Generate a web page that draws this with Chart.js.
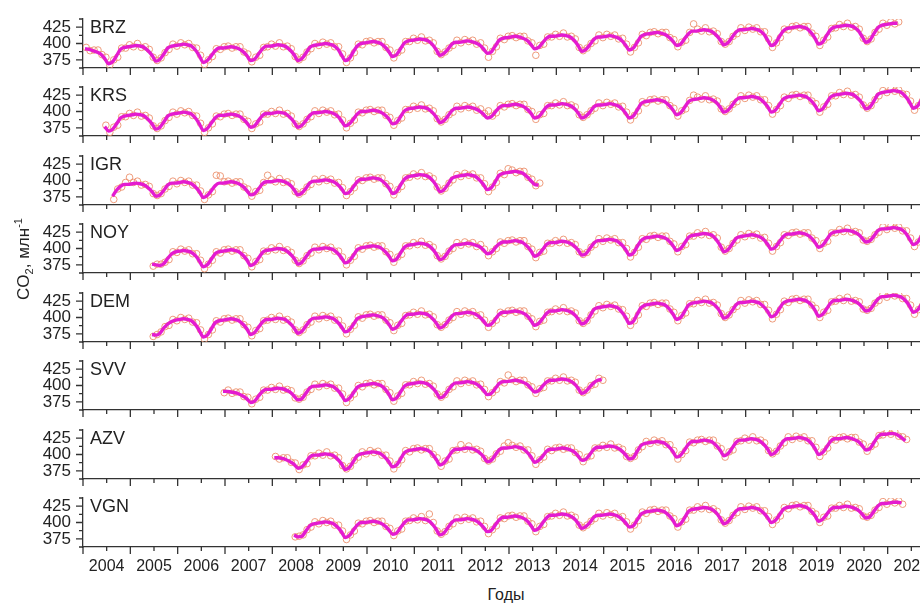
<!DOCTYPE html>
<html lang="ru">
<head>
<meta charset="UTF-8">
<title>CO2 stations</title>
<script src="https://cdn.jsdelivr.net/npm/chart.js"></script>
<style>
  html, body { margin: 0; padding: 0; overflow: hidden; background: #fff; }
  #wrap { position: relative; width: 920px; height: 604px; overflow: hidden; }
  .panel { position: absolute; left: 0; width: 940px; }
  #ytitle { position: absolute; left: -43px; top: 249px; width: 130px; height: 20px; line-height: 20px;
            text-align: center; transform: rotate(-90deg); font: 17px Arial, "Liberation Sans", sans-serif; color: #222; z-index: 5; }
  #ytitle sub, #ytitle sup { font-size: 11px; }
  #xtitle { position: absolute; left: 456px; top: 586px; width: 100px; text-align: center;
            font: 16px Arial, "Liberation Sans", sans-serif; color: #222; }
</style>
</head>
<body>
<div id="wrap">
  <div id="ytitle">CO<sub>2</sub>, млн<sup>-1</sup></div>
  <div id="xtitle">Годы</div>
</div>
<script>
// станции сверху вниз и месяц первой точки каждого ряда
const stations = ['BRZ', 'KRS', 'IGR', 'NOY', 'DEM', 'SVV', 'AZV', 'VGN'];
const firstMonths = ['2004-01', '2004-06', '2004-08', '2005-06', '2005-06', '2006-12', '2008-01', '2008-06'];

const yearLabels = ['2004', '2005', '2006', '2007', '2008', '2009', '2010', '2011', '2012',
                    '2013', '2014', '2015', '2016', '2017', '2018', '2019', '2020', '2021'];
const xTicks = [2004, 2004.5, 2005, 2005.5, 2006, 2006.5, 2007, 2007.5, 2008, 2008.5, 2009, 2009.5,
                2010, 2010.5, 2011, 2011.5, 2012, 2012.5, 2013, 2013.5, 2014, 2014.5, 2015, 2015.5,
                2016, 2016.5, 2017, 2017.5, 2018, 2018.5, 2019, 2019.5, 2020, 2020.5, 2021, 2021.5, 2022];
const yTicks = [362.5, 375, 387.5, 400, 412.5, 425, 437.5];
const yLabels = { 375: '375', 400: '400', 425: '425' };

// сглаженные среднемесячные значения (линия), млн-1
const brzLine = [
  392,391,389,387,384,377,369,372,381,391,394,395, 396,397,396,394,389,382,373,376,384,393,396,397,
  398,399,398,396,390,381,371,374,381,389,393,393, 394,395,394,392,388,382,374,376,384,392,396,396,
  397,398,397,395,390,383,374,377,385,394,397,398, 399,400,399,397,392,383,374,377,387,396,400,401,
  402,403,402,400,395,388,380,383,392,401,404,405, 406,407,406,404,399,391,382,385,391,399,402,402,
  403,404,403,401,398,392,385,387,396,405,408,409, 410,411,410,408,405,399,392,394,401,408,411,411,
  412,413,412,410,405,397,388,391,398,406,410,410, 411,412,411,409,405,398,390,393,402,411,414,415,
  416,417,416,414,410,404,397,399,407,415,419,419, 420,421,420,418,413,406,398,401,409,417,421,421,
  422,423,422,420,415,406,397,400,410,419,423,424, 425,426,425,423,417,409,399,402,412,421,425,426,
  427,428,427,425,420,411,402,405,415,424,428,429, 430,431,431];
const krsLine = [
  377,370,373,381,390,393,394,
  395,396,395,393,388,381,373,376,384,393,396,397, 398,399,398,396,390,381,371,374,382,390,394,394,
  395,396,395,393,389,383,376,378,386,394,397,397, 398,399,398,396,391,384,376,379,386,394,398,398,
  399,400,399,397,393,386,378,381,388,396,400,400, 401,402,401,399,395,389,381,383,392,401,404,405,
  406,407,406,404,399,392,383,386,393,401,405,405, 406,407,406,404,401,396,390,392,399,406,409,409,
  410,411,410,408,404,398,390,392,399,407,410,410, 411,412,411,409,405,398,390,393,399,407,410,410,
  411,412,411,409,405,398,390,393,402,412,415,416, 417,418,417,415,410,403,395,398,406,415,418,419,
  420,421,420,418,414,407,399,402,409,417,421,421, 422,423,422,420,415,408,399,402,410,419,422,423,
  424,425,424,422,417,410,401,404,413,422,425,426, 427,428,427,425,420,413,404,407,416,426,429,430,
  431,432,431,429,423,415,405,408,417,427,430,431];
const igrLine = [
  376,385,391,394,394,
  395,396,395,393,389,383,376,378,385,393,396,396, 397,398,397,395,390,383,374,377,384,392,396,396,
  397,398,397,395,391,385,378,380,387,395,398,398, 399,400,399,397,393,386,378,381,388,396,399,399,
  400,401,400,398,394,388,380,382,390,398,402,402, 403,404,403,401,396,389,380,383,393,402,406,407,
  408,409,408,406,401,393,383,386,394,403,406,407, 408,409,408,406,401,394,386,389,398,408,411,412,
  413,414,413,411,406,400,394,393];
const noyLine = [
  376,375,374,377,385,392,395,
  396,397,396,394,389,381,372,375,383,392,395,396, 397,398,397,395,390,383,374,377,385,394,397,398,
  399,400,399,397,392,385,376,379,387,395,399,399, 400,401,400,398,393,386,378,381,389,398,401,402,
  403,404,403,401,396,389,381,384,393,402,405,406, 407,408,407,405,400,392,383,386,394,402,406,406,
  407,408,407,405,403,398,392,394,401,407,410,410, 411,412,411,409,404,397,388,391,398,406,409,409,
  410,411,410,408,404,398,390,392,400,408,412,412, 413,414,413,411,406,399,390,393,403,412,416,417,
  418,419,418,416,412,405,397,400,408,417,420,421, 422,423,422,420,414,405,395,398,406,415,418,419,
  420,421,420,418,414,407,399,402,410,418,422,422, 423,424,423,421,417,410,402,405,413,422,425,426,
  427,428,427,425,422,416,410,412,419,427,430,430, 431,432,431,429,424,415,406,409,418,427,430,431];
const demLine = [
  374,373,376,384,390,394,396,
  397,398,397,395,389,380,370,373,382,392,395,396, 397,398,397,395,390,383,374,377,385,393,397,397,
  398,399,398,396,391,384,376,379,387,395,399,399, 400,401,400,398,393,386,378,381,389,398,401,402,
  403,404,403,401,397,390,382,385,393,401,405,405, 406,407,406,404,399,392,384,387,394,402,406,406,
  407,408,407,405,401,395,388,390,397,405,408,408, 409,410,409,407,403,396,388,391,398,406,410,410,
  411,412,411,409,405,398,390,393,402,412,415,416, 417,418,417,415,409,401,391,394,405,415,419,420,
  421,422,421,419,414,406,397,400,409,419,422,423, 424,425,424,422,417,409,399,402,410,419,423,423,
  424,425,424,422,417,410,401,404,413,422,425,426, 427,428,427,425,420,412,402,405,413,422,426,426,
  427,428,427,425,422,416,410,412,420,428,432,432, 433,434,433,431,426,418,408,411,419,428,432,432];
const svvLine = [
  391,
  391,390,389,387,384,380,374,376,384,391,394,394, 395,396,395,393,390,384,378,380,388,396,399,399,
  400,401,400,398,393,386,377,380,388,397,400,401, 402,403,402,400,395,387,378,381,390,399,402,403,
  404,405,404,402,397,390,381,384,392,400,404,404, 405,406,405,403,399,393,386,388,395,403,406,406,
  407,408,407,405,402,396,390,392,399,405,408,408, 409,410,409,407,403,396,388,391,398,404,408,409];
const azvLine = [
  395,395,394,392,389,385,379,381,388,396,399,399, 400,401,400,398,393,386,377,380,389,398,401,402,
  403,404,403,401,396,389,381,384,393,403,406,407, 408,409,408,406,401,393,384,387,395,404,408,408,
  409,410,409,407,403,397,389,391,399,407,410,410, 411,412,411,409,404,397,388,391,397,405,408,408,
  409,410,409,407,404,398,391,393,400,408,411,411, 412,413,412,410,406,400,393,395,405,414,417,418,
  419,420,419,417,412,405,396,399,407,416,420,420, 421,422,421,419,414,407,398,401,409,418,422,422,
  423,424,423,421,416,409,400,403,411,420,424,424, 425,426,425,423,418,410,400,403,411,420,424,424,
  425,426,425,423,420,414,407,409,418,427,431,431, 432,432,430,426,421];
const vgnLine = [
  381,378,379,387,395,398,399,
  400,401,400,398,393,386,377,380,388,396,400,400, 401,402,401,399,395,389,382,384,392,400,404,404,
  405,406,405,403,398,390,381,384,392,400,404,404, 405,406,405,403,399,393,386,388,396,404,408,408,
  409,410,409,407,403,396,388,391,399,407,411,411, 412,413,412,410,406,399,391,394,400,408,411,411,
  412,413,412,410,406,400,393,395,404,413,416,417, 418,419,418,416,411,404,395,398,407,417,420,421,
  422,423,422,420,415,407,398,401,409,417,421,421, 422,423,422,420,415,408,400,403,411,420,423,424,
  425,426,425,423,418,411,402,405,412,420,423,423, 424,425,424,422,419,413,407,409,417,425,429,429,
  430,431,431,430];

// отдельные измерения (кружки), млн-1
const brzObs = [
  394,389,390,390,383,379,367,375,379,393,393,398, 395,400,394,395,391,379,374,378,386,391,399,396,
  401,398,400,394,393,382,368,375,380,392,391,395, 396,393,395,395,387,384,372,379,382,394,395,399,
  396,401,395,396,392,380,375,379,387,392,400,397, 402,399,401,395,395,384,371,378,386,399,398,403,
  404,401,403,403,394,390,378,386,390,403,403,408, 405,410,404,405,401,388,383,387,393,397,405,401,
  406,403,405,399,401,393,379,388,395,408,406,411, 412,409,411,411,404,401,382,397,399,410,410,414,
  411,416,410,411,407,394,389,393,400,404,413,409, 414,411,413,407,408,399,387,394,401,414,412,417,
  418,415,417,417,409,406,395,402,405,417,430,422, 419,424,418,419,415,403,399,403,411,415,424,420,
  425,422,424,418,418,407,394,401,409,422,421,426, 427,424,426,426,416,411,397,405,410,423,424,429,
  426,431,425,426,422,408,403,407,417,422,431,428, 433,430,433];
const krsObs = [
  379,368,376,379,392,392,397,
  394,399,393,394,390,378,374,378,386,391,399,396, 401,398,400,394,393,382,368,375,381,393,392,396,
  397,394,396,396,388,385,374,381,384,396,396,400, 397,402,396,397,393,381,377,381,388,392,401,397,
  402,399,401,395,396,387,375,382,387,399,398,402, 403,400,402,402,394,391,379,386,390,403,403,408,
  405,410,404,405,401,389,384,388,395,399,408,404, 409,406,408,402,404,397,401,393,398,409,407,411,
  412,409,411,411,403,400,388,395,397,409,409,413, 410,415,409,410,407,395,391,395,401,405,413,409,
  414,411,413,407,408,399,387,394,401,415,413,418, 419,416,418,418,409,405,393,401,404,417,425,422,
  419,424,418,419,416,404,400,404,411,415,424,420, 425,422,424,418,418,409,396,403,409,422,420,425,
  426,423,425,425,416,412,399,407,411,424,424,429, 426,431,425,426,422,410,405,409,418,424,432,429,
  434,431,433,427,426,416,402,409,416,430,428,433];
const igrObs = [
  371,387,390,397,405,
  397,399,393,394,391,380,377,380,387,391,399,395, 400,397,399,393,393,384,371,378,383,408,407,398,
  399,396,398,398,390,387,376,383,385,397,408,401, 398,403,397,398,395,383,379,383,390,394,402,398,
  403,400,402,396,397,389,377,383,389,401,400,404, 405,402,404,404,395,391,378,386,391,404,405,410,
  407,412,406,407,403,390,384,388,396,401,409,406, 411,408,410,404,404,395,383,390,397,411,409,418,
  416,412,414,414,405,402,392,396];
const noyObs = [
  373,376,376,379,383,395,394,
  399,396,398,392,392,382,369,376,382,395,393,398, 399,396,398,398,389,385,372,380,383,396,396,401,
  398,403,397,398,394,382,377,381,389,393,402,398, 403,400,402,396,396,387,375,382,388,401,399,404,
  405,402,404,404,395,391,379,387,391,404,404,409, 406,411,405,406,402,389,384,388,396,400,409,405,
  410,407,409,403,406,399,389,395,400,410,408,412, 413,410,412,412,403,399,386,394,396,408,408,412,
  409,414,408,409,406,395,391,394,402,406,415,411, 416,413,415,409,409,400,387,394,402,415,414,419,
  420,417,419,419,411,407,395,403,406,419,419,424, 421,426,420,421,416,402,396,400,408,413,421,418,
  423,420,422,416,417,408,396,403,409,421,420,424, 425,422,424,424,416,412,400,408,411,424,424,429,
  426,431,425,426,424,413,411,414,421,425,433,429, 434,431,433,427,427,416,403,410,417,430,428,433];
const demObs = [
  371,374,378,386,388,397,395,
  400,397,399,393,392,381,367,374,381,395,393,398, 399,396,398,398,389,385,372,380,383,395,396,400,
  397,402,396,397,393,381,377,381,389,393,402,398, 403,400,402,396,396,387,375,382,388,401,399,404,
  405,402,404,404,396,392,380,388,391,403,404,408, 405,410,404,405,401,389,385,389,396,400,409,405,
  410,407,409,403,404,396,385,391,396,408,406,410, 411,408,410,410,402,398,386,394,396,408,409,413,
  410,415,409,410,407,395,391,395,404,410,418,415, 420,417,419,413,412,402,388,395,404,418,417,422,
  423,420,422,422,413,408,395,403,407,421,421,426, 423,428,422,423,419,406,400,404,412,417,426,422,
  427,424,426,420,420,411,398,405,412,425,423,428, 429,426,428,428,419,414,400,408,411,424,425,429,
  426,431,425,426,424,413,411,414,422,426,435,431, 436,433,435,429,429,419,405,412,418,431,430,434];
const svvObs = [
  389,
  393,388,390,390,383,382,372,379,382,393,393,397, 394,399,393,394,392,381,379,382,390,394,402,398,
  403,400,402,396,396,387,374,381,387,400,398,403, 404,401,403,403,394,389,376,384,388,401,401,406,
  403,408,402,403,399,387,382,386,394,398,407,403, 408,405,407,401,402,394,383,389,394,406,404,416,
  409,406,408,408,401,398,388,395,397,407,407,411, 408,413,407,408,405,393,389,393,400,402,411,408];
const azvObs = [
  397,393,395,395,388,387,377,384,386,398,398,402, 399,404,398,399,395,383,378,382,391,396,404,401,
  406,403,405,399,399,390,378,385,392,406,404,409, 410,407,409,409,400,395,382,390,393,406,407,415,
  408,413,407,408,405,394,390,393,401,405,413,418, 414,411,413,407,407,398,385,392,396,408,406,410,
  411,408,410,410,403,400,389,396,398,410,410,414, 411,416,410,411,408,397,394,397,407,412,420,417,
  422,419,421,415,415,406,393,400,406,419,418,422, 423,420,422,422,413,409,396,404,407,420,421,425,
  422,427,421,422,418,406,401,405,413,418,427,423, 428,425,427,421,421,411,397,404,410,423,422,426,
  427,424,426,426,419,416,405,412,416,429,430,434, 431,435,428,427,423];
const vgnObs = [
  378,379,381,389,393,401,398,
  403,400,402,396,396,387,374,381,387,399,398,402, 403,400,402,402,394,391,380,387,390,402,403,407,
  404,409,403,413,400,387,382,386,394,398,407,403, 408,405,407,401,402,394,383,389,395,407,406,410,
  411,408,410,410,402,398,386,394,397,409,410,414, 411,416,410,411,408,396,392,396,402,406,414,410,
  415,412,414,408,409,401,390,396,403,416,414,419, 420,417,419,419,410,406,393,401,405,419,419,424,
  421,426,420,421,417,404,399,403,411,415,424,420, 425,422,424,418,418,409,397,404,410,423,421,426,
  427,424,426,426,417,413,400,408,410,422,422,426, 423,428,422,423,421,410,408,411,419,423,432,428,
  433,430,433,428];

const lineSeries = [brzLine, krsLine, igrLine, noyLine, demLine, svvLine, azvLine, vgnLine];
const obsSeries = [brzObs, krsObs, igrObs, noyObs, demObs, svvObs, azvObs, vgnObs];

const FONT = 'Arial, "Liberation Sans", sans-serif';

// месячный ряд -> точки {x: десятичный год, y}
function toPoints(values, first, shift) {
  const [yr, mo] = first.split('-').map(Number);
  return values.map((v, i) => ({ x: yr + (mo - 1 + i + shift) / 12, y: v }));
}

// засечки осей и название станции
const framePlugin = {
  id: 'frame',
  afterDraw(chart, args, opts) {
    const { ctx, chartArea: a, scales: { x, y } } = chart;
    ctx.save();
    ctx.strokeStyle = '#333';
    ctx.lineWidth = 1.3;
    ctx.beginPath();
    xTicks.forEach(v => {
      const px = x.getPixelForValue(v);
      ctx.moveTo(px, a.bottom);
      ctx.lineTo(px, a.bottom + (v % 1 === 0 ? 7 : 4));
    });
    yTicks.forEach(v => {
      const py = y.getPixelForValue(v);
      ctx.moveTo(a.left, py);
      ctx.lineTo(a.left - (v % 25 === 0 ? 7 : 4), py);
    });
    ctx.stroke();
    ctx.fillStyle = '#222';
    ctx.font = '18px ' + FONT;
    ctx.textBaseline = 'alphabetic';
    ctx.fillText(opts.name, a.left + 7, a.top + 14);
    ctx.restore();
  }
};

const wrap = document.getElementById('wrap');

stations.forEach((name, i) => {
  const last = i === stations.length - 1;
  const top = Math.round(14 + i * 68.43);
  const h = last ? 111 : 68;

  const div = document.createElement('div');
  div.className = 'panel';
  div.style.top = top + 'px';
  div.style.height = h + 'px';
  const canvas = document.createElement('canvas');
  canvas.width = 940;
  canvas.height = h;
  div.appendChild(canvas);
  wrap.appendChild(div);

  new Chart(canvas, {
    type: 'scatter',
    data: {
      datasets: [{
        type: 'line',
        data: toPoints(lineSeries[i], firstMonths[i], 0.5),
        borderColor: '#e41bd0',
        borderWidth: 3.4,
        pointRadius: 0,
        cubicInterpolationMode: 'monotone',
        order: 0
      }, {
        data: toPoints(obsSeries[i], firstMonths[i], 0.8),
        showLine: false,
        pointRadius: 3.3,
        pointBorderWidth: 1,
        pointBorderColor: 'rgba(236,145,110,0.9)',
        pointBackgroundColor: 'rgba(0,0,0,0)',
        order: 1
      }]
    },
    options: {
      responsive: false,
      animation: false,
      devicePixelRatio: 1,
      layout: { padding: 0 },
      plugins: {
        legend: { display: false },
        tooltip: { enabled: false },
        frame: { name: name }
      },
      scales: {
        x: {
          type: 'linear',
          min: 2004,
          max: 2022,
          grid: { display: false, drawTicks: false },
          border: { color: '#333', width: 1.3 },
          afterBuildTicks: s => { s.ticks = xTicks.map(v => ({ value: v })); },
          afterFit: s => { s.height = last ? 57 : 14; s.paddingLeft = 0; s.paddingRight = 0; },
          ticks: {
            display: last,
            autoSkip: false,
            maxRotation: 0,
            padding: 10,
            color: '#222',
            font: { size: 16, family: FONT },
            callback: v => (v % 1 === 0.5 ? yearLabels[Math.floor(v) - 2004] : '')
          }
        },
        y: {
          min: 362.5,
          max: 437.5,
          grid: { display: false, drawTicks: false },
          border: { color: '#333', width: 1.3 },
          afterBuildTicks: s => { s.ticks = yTicks.map(v => ({ value: v })); },
          afterFit: s => { s.width = 83; s.paddingTop = 0; s.paddingBottom = 0; },
          ticks: {
            autoSkip: false,
            padding: 12,
            color: '#222',
            font: { size: 17, family: FONT },
            callback: v => yLabels[v] || ''
          }
        }
      }
    },
    plugins: [framePlugin]
  });
});
</script>
</body>
</html>
